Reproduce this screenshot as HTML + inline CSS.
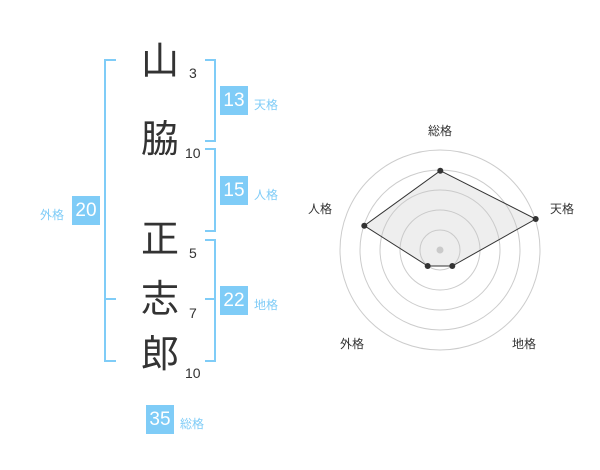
<!DOCTYPE html>
<html><head><meta charset="utf-8"><style>
body{margin:0;width:600px;height:470px;background:#fff;position:relative;overflow:hidden;font-family:"Liberation Sans","Noto Sans CJK JP",sans-serif}
.a{position:absolute}
.k{position:absolute;font-size:38px;color:#333;width:44px;text-align:center;line-height:44px}
.n{position:absolute;font-size:14px;color:#333}
.b{position:absolute;width:28px;height:29px;background:#7fccf7;color:#fff;font-size:19px;text-align:center;line-height:29px}
.l{position:absolute;font-size:12px;color:#7fccf7}
.br{position:absolute;border:2px solid #7fccf7}
</style></head><body>
<div class="br" style="left:104px;top:59px;width:10px;height:299px;border-right:none"></div>
<div class="a" style="left:106px;top:298px;width:10px;height:2px;background:#7fccf7"></div>
<div class="br" style="left:205px;top:59px;width:9px;height:79px;border-left:none"></div>
<div class="br" style="left:205px;top:148px;width:9px;height:80px;border-left:none"></div>
<div class="br" style="left:205px;top:239px;width:9px;height:119px;border-left:none"></div>
<div class="a" style="left:205px;top:298px;width:10px;height:2px;background:#7fccf7"></div>

<div class="k" style="left:138px;top:40px">山</div>
<div class="k" style="left:138px;top:118px">脇</div>
<div class="k" style="left:138px;top:218px">正</div>
<div class="k" style="left:138px;top:278px">志</div>
<div class="k" style="left:138px;top:333px">郎</div>
<div class="n" style="left:189px;top:65px">3</div>
<div class="n" style="left:185px;top:145px">10</div>
<div class="n" style="left:189px;top:245px">5</div>
<div class="n" style="left:189px;top:305px">7</div>
<div class="n" style="left:185px;top:365px">10</div>

<div class="b" style="left:220px;top:86px">13</div><div class="l" style="left:254px;top:96px">天格</div>
<div class="b" style="left:220px;top:176px">15</div><div class="l" style="left:254px;top:186px">人格</div>
<div class="b" style="left:220px;top:286px">22</div><div class="l" style="left:254px;top:296px">地格</div>
<div class="b" style="left:72px;top:196px">20</div><div class="l" style="left:40px;top:206px">外格</div>
<div class="b" style="left:146px;top:405px">35</div><div class="l" style="left:180px;top:415px">総格</div>

<svg class="a" style="left:0;top:0" width="600" height="470">
<g fill="none" stroke="#ccc" stroke-width="1">
<circle cx="440" cy="250" r="100"/><circle cx="440" cy="250" r="80"/><circle cx="440" cy="250" r="60"/><circle cx="440" cy="250" r="40"/><circle cx="440" cy="250" r="20"/>
</g>
<circle cx="440" cy="250" r="3.5" fill="#ccc"/>
<polygon points="440.3,170.7 535.7,219 452.3,266 427.7,266 364.3,225.7" fill="rgba(200,200,200,0.3)" stroke="#333" stroke-width="1"/>
<g fill="#333"><circle cx="440.3" cy="170.7" r="3"/><circle cx="535.7" cy="219" r="3"/><circle cx="452.3" cy="266" r="3"/><circle cx="427.7" cy="266" r="3"/><circle cx="364.3" cy="225.7" r="3"/></g>
<g font-size="12" fill="#333" text-anchor="middle" font-family="Liberation Sans,Noto Sans CJK JP,sans-serif">
<text x="440" y="135">総格</text><text x="562" y="213">天格</text><text x="320" y="213">人格</text><text x="352" y="348">外格</text><text x="524" y="348">地格</text>
</g>
</svg>
</body></html>
